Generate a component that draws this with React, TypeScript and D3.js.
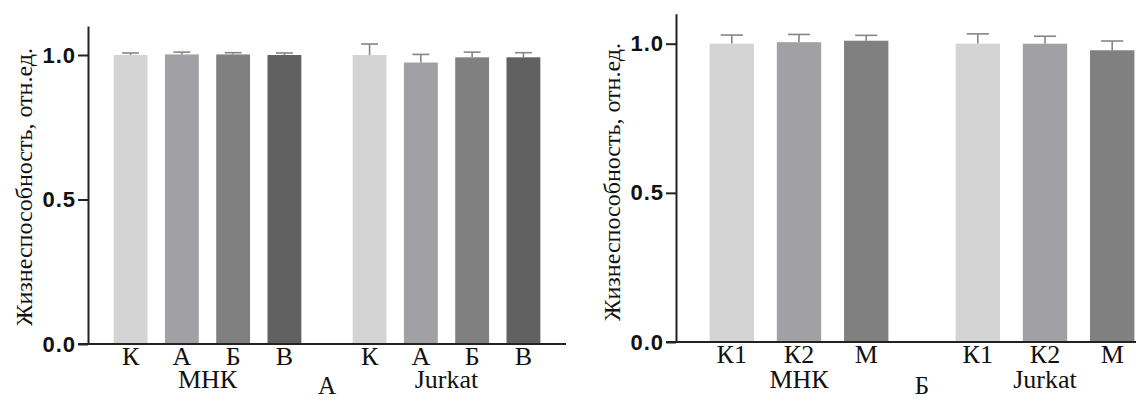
import React, { useEffect, useRef } from 'react';
import * as d3 from 'd3';

// data
const groups = ['МНК', 'Jurkat'];
const yTicks = [0, 0.5, 1.0];
const barColors = ['#d4d4d4', '#a1a1a5', '#808080', '#616161'];

const catsA = ['К', 'А', 'Б', 'В'];
const meanA = [
  [1.0, 1.002, 1.002, 1.0],
  [1.0, 0.974, 0.992, 0.992],
];
const errA = [
  [0.007, 0.008, 0.006, 0.007],
  [0.038, 0.028, 0.018, 0.016],
];

const catsB = ['К1', 'К2', 'М'];
const meanB = [
  [1.0, 1.005, 1.01],
  [1.0, 1.0, 0.978],
];
const errB = [
  [0.029, 0.026, 0.018],
  [0.033, 0.025, 0.031],
];

const yTitle = 'Жизнеспособность, отн.ед.';
const serif = '"Liberation Serif", "Times New Roman", serif';
const sans = '"Liberation Sans", Arial, sans-serif';

function drawPanel(svg: any, cfg: any) {
  const { left, right, zero, unit, cats, means, errs, panelLabel, titleX, titleY, catY, groupY, panelY } = cfg;

  const y = d3.scaleLinear().domain([0, 1.1]).range([zero, zero - 1.1 * unit]);
  const outer = d3.scaleBand().domain(groups).range([left, right]).padding(0);
  const inner = d3.scaleBand().domain(cats).range([0, outer.bandwidth()]).paddingInner(0.34).paddingOuter(0.5);
  const g = svg.append('g');

  groups.forEach((grp: string, gi: number) => {
    const gx = outer(grp) as number;
    cats.forEach((c: string, ci: number) => {
      const bx = gx + (inner(c) as number);
      const bw = inner.bandwidth();
      const v = means[gi][ci];
      const e = errs[gi][ci];
      const cx = bx + bw / 2;
      g.append('line')
        .attr('x1', cx).attr('x2', cx)
        .attr('y1', y(v)).attr('y2', y(v + e))
        .attr('stroke', '#858585').attr('stroke-width', 1.6);
      g.append('line')
        .attr('x1', cx - bw / 4).attr('x2', cx + bw / 4)
        .attr('y1', y(v + e)).attr('y2', y(v + e))
        .attr('stroke', '#858585').attr('stroke-width', 1.6);
      g.append('rect')
        .attr('x', bx).attr('y', y(v))
        .attr('width', bw).attr('height', y(0) - y(v))
        .attr('fill', barColors[ci]);
      g.append('text')
        .attr('x', cx).attr('y', catY)
        .attr('text-anchor', 'middle')
        .attr('font-family', serif).attr('font-size', 26)
        .attr('fill', '#111')
        .text(c);
    });
    g.append('text')
      .attr('x', gx + outer.bandwidth() / 2).attr('y', groupY)
      .attr('text-anchor', 'middle')
      .attr('font-family', serif).attr('font-size', 26)
      .attr('fill', '#111')
      .text(grp);
  });

  // x baseline
  g.append('line')
    .attr('x1', left - 10).attr('x2', right)
    .attr('y1', y(0)).attr('y2', y(0))
    .attr('stroke', '#222').attr('stroke-width', 2);

  const axis = g.append('g')
    .attr('transform', `translate(${left},0)`)
    .call(d3.axisLeft(y).tickValues(yTicks).tickFormat(d3.format('.1f')).tickSize(10).tickSizeOuter(0).tickPadding(2));
  axis.select('.domain').attr('stroke', '#222').attr('stroke-width', 2);
  axis.selectAll('.tick line').attr('stroke', '#222').attr('stroke-width', 2);
  axis.selectAll('.tick text')
    .attr('font-family', sans).attr('font-size', 22).attr('font-weight', 'bold')
    .attr('letter-spacing', 1).attr('fill', '#111');

  g.append('text')
    .attr('transform', `translate(${titleX},${titleY}) rotate(-90)`)
    .attr('text-anchor', 'middle')
    .attr('font-family', serif).attr('font-size', 24)
    .attr('fill', '#111')
    .text(yTitle);

  g.append('text')
    .attr('x', (outer('Jurkat') as number)).attr('y', panelY)
    .attr('text-anchor', 'middle')
    .attr('font-family', serif).attr('font-size', 25)
    .attr('fill', '#111')
    .text(panelLabel);
}

export default function App() {
  const ref = useRef<HTMLDivElement>(null);

  useEffect(() => {
    const container = ref.current;
    if (!container) return;
    container.innerHTML = '';
    const svg = d3.select(container)
      .append('svg')
      .attr('width', 1136)
      .attr('height', 400)
      .style('display', 'block')
      .style('background', '#fff');

    drawPanel(svg, {
      left: 88, right: 566, zero: 344, unit: 289,
      cats: catsA, means: meanA, errs: errA, panelLabel: 'А',
      titleX: 32, titleY: 187, catY: 365, groupY: 388, panelY: 394,
    });
    drawPanel(svg, {
      left: 676, right: 1168, zero: 342, unit: 298.3,
      cats: catsB, means: meanB, errs: errB, panelLabel: 'Б',
      titleX: 620, titleY: 182, catY: 363, groupY: 388, panelY: 394,
    });
  }, []);

  return <div ref={ref} style={{ position: 'absolute', left: 0, top: 0, width: 1136, height: 400, overflow: 'hidden' }} />;
}
